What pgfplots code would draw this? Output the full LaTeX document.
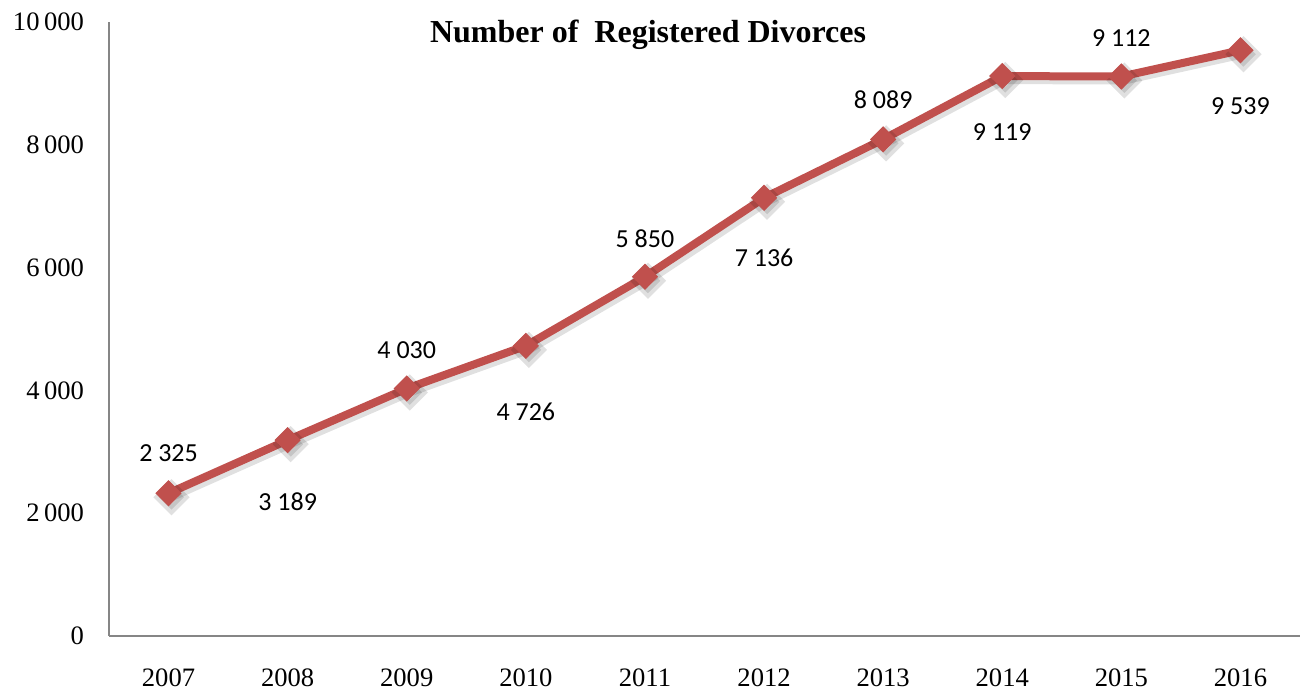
\documentclass[border=0pt]{standalone}
\usepackage{fontspec}
\setmainfont{Liberation Serif}
\newfontfamily\calibri{Carlito}
\usepackage{pgfplots}
\pgfplotsset{compat=1.18}
\definecolor{lineRed}{HTML}{C0504D}
\definecolor{axisGrey}{HTML}{868686}

\pgfplotstableread{
x y dy
0 2325 20
1 3189 -31
2 4030 19
3 4726 -33
4 5850 19
5 7136 -30
6 8089 20
7 9119 -28
8 9112 19
9 9539 -28
}\divorces

\begin{document}
\begin{tikzpicture}
\useasboundingbox (-54.5pt,-29pt) rectangle (597pt,318pt);
\begin{axis}[
  scale only axis,
  width=595.5pt, height=307pt,
  xmin=-0.5, xmax=9.5,
  ymin=0, ymax=10000,
  xtick={0,...,9},
  xticklabels={2007,2008,2009,2010,2011,2012,2013,2014,2015,2016},
  ytick={0,2000,4000,6000,8000,10000},
  scaled y ticks=false,
  /pgf/number format/.cd, 1000 sep={\,}, assume math mode=true,
  /pgfplots/.cd,
  axis x line*=bottom, axis y line*=left,
  axis line style={axisGrey, line width=0.8pt, -},
  major tick length=0pt,
  tick label style={font=\fontsize{13.3}{15}\selectfont},
  xticklabel style={yshift=-13pt},
  yticklabel style={xshift=-9pt},
  clip=false,
]
% soft shadow
\addplot[black, opacity=0.12, line width=4pt, xshift=1.5pt, yshift=-2pt,
  mark=square*, mark size=4.4pt, mark options={rotate=45, solid}]
  table[x=x, y=y] {\divorces};
\addplot[lineRed, line width=4pt, mark=square*, mark size=4.4pt,
  mark options={rotate=45, solid, fill=lineRed, draw=lineRed, line width=0.5pt},
  nodes near coords, point meta=explicit,
  visualization depends on={\thisrow{dy} \as \dy},
  every node near coord/.append style={anchor=center, yshift=\dy pt, black,
    font=\calibri\fontsize{13}{15}\selectfont,
    /pgf/number format/.cd, 1000 sep={\ }, fixed, precision=0},
] table[x=x, y=y, meta=y] {\divorces};
\node[font=\bfseries\fontsize{16}{18}\selectfont] at (axis description cs:0.4526,0.98) {Number of\ \ Registered Divorces};
\end{axis}
\end{tikzpicture}
\end{document}
